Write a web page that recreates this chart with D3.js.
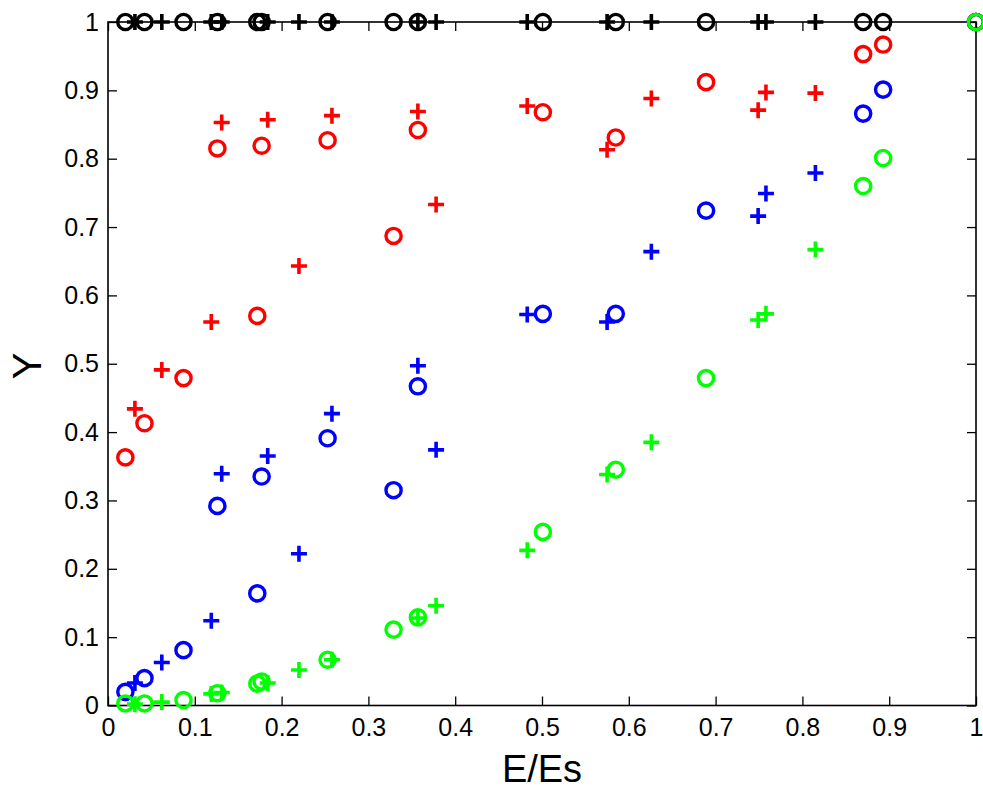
<!DOCTYPE html>
<html>
<head>
<meta charset="utf-8">
<script src="https://cdn.jsdelivr.net/npm/d3@7"></script>
<style>
  html, body { margin: 0; padding: 0; background: #fff; }
  svg { display: block; font-family: "Liberation Sans", Arial, Helvetica, sans-serif; }
</style>
</head>
<body>
<svg id="chart" width="983" height="789"></svg>
<script>
// ---- data ----
const circleX = [0.020, 0.042, 0.087, 0.126, 0.172, 0.177, 0.253, 0.329, 0.357, 0.501, 0.585, 0.689, 0.870, 0.893, 1.0];
const plusX   = [0.031, 0.062, 0.119, 0.131, 0.184, 0.220, 0.258, 0.357, 0.378, 0.483, 0.575, 0.626, 0.749, 0.758, 0.815];

const redCircleY   = [0.363, 0.413, 0.479, 0.815, 0.570, 0.819, 0.827, 0.687, 0.842, 0.868, 0.831, 0.912, 0.953, 0.967, 1.0];
const blueCircleY  = [0.020, 0.040, 0.081, 0.292, 0.164, 0.335, 0.391, 0.315, 0.467, 0.573, 0.573, 0.724, 0.866, 0.901, 1.0];
const greenCircleY = [0.003, 0.003, 0.008, 0.018, 0.032, 0.035, 0.067, 0.111, 0.129, 0.254, 0.345, 0.479, 0.760, 0.801, 1.0];
const blackCircleY = [1, 1, 1, 1, 1, 1, 1, 1, 1, 1, 1, 1, 1, 1, 1];

const redPlusY   = [0.434, 0.491, 0.561, 0.853, 0.857, 0.643, 0.863, 0.869, 0.733, 0.877, 0.813, 0.888, 0.871, 0.897, 0.896];
const bluePlusY  = [0.033, 0.063, 0.124, 0.339, 0.365, 0.222, 0.427, 0.497, 0.374, 0.572, 0.561, 0.664, 0.716, 0.749, 0.779];
const greenPlusY = [0.002, 0.005, 0.017, 0.019, 0.033, 0.052, 0.067, 0.128, 0.146, 0.227, 0.338, 0.385, 0.564, 0.573, 0.667];
const blackPlusY = [1, 1, 1, 1, 1, 1, 1, 1, 1, 1, 1, 1, 1, 1, 1];

const xTicks = [0, 0.1, 0.2, 0.3, 0.4, 0.5, 0.6, 0.7, 0.8, 0.9, 1];
const yTicks = [0, 0.1, 0.2, 0.3, 0.4, 0.5, 0.6, 0.7, 0.8, 0.9, 1];
const xLabel = "E/Es";
const yLabel = "Y";

const seriesList = [
  { color: "#000000", circleY: blackCircleY, plusY: blackPlusY },
  { color: "#ff0000", circleY: redCircleY,   plusY: redPlusY },
  { color: "#0000ff", circleY: blueCircleY,  plusY: bluePlusY },
  { color: "#00ff00", circleY: greenCircleY, plusY: greenPlusY }
];

// ---- layout ----
const L = 108, R = 976, T = 22, B = 705.5;
const svg = d3.select("#chart");
const x = d3.scaleLinear().domain([0, 1]).range([L, R]);
const y = d3.scaleLinear().domain([0, 1]).range([B, T]);
const tickLen = 9;
const fmt = d => d === 0 ? "0" : d === 1 ? "1" : d3.format(".1f")(d);

// axes
const gx = svg.append("g").attr("transform", `translate(0,${B})`)
  .call(d3.axisBottom(x).tickValues(xTicks).tickFormat(fmt).tickSizeInner(-tickLen).tickSizeOuter(0).tickPadding(13));
const gxt = svg.append("g").attr("transform", `translate(0,${T})`)
  .call(d3.axisTop(x).tickValues(xTicks).tickFormat("").tickSizeInner(-tickLen).tickSizeOuter(0));
const gy = svg.append("g").attr("transform", `translate(${L},0)`)
  .call(d3.axisLeft(y).tickValues(yTicks).tickFormat(fmt).tickSizeInner(-tickLen).tickSizeOuter(0).tickPadding(9));
const gyr = svg.append("g").attr("transform", `translate(${R},0)`)
  .call(d3.axisRight(y).tickValues(yTicks).tickFormat("").tickSizeInner(-tickLen).tickSizeOuter(0));

[gx, gxt, gy, gyr].forEach(g => {
  g.select(".domain").remove();
  g.selectAll(".tick line").attr("stroke", "#000").attr("stroke-width", 1.3);
  g.selectAll(".tick text").attr("fill", "#000").style("font-size", "25px");
});
gx.selectAll(".tick text").attr("dy", "0.71em");

// box
svg.append("rect").attr("x", L).attr("y", T).attr("width", R - L).attr("height", B - T)
  .attr("fill", "none").attr("stroke", "#000").attr("stroke-width", 1.6);

// axis labels
svg.append("text").attr("x", (L + R) / 2).attr("y", 782).attr("text-anchor", "middle")
  .style("font-size", "38px").attr("fill", "#000").text(xLabel);
svg.append("text").attr("transform", `translate(41,366) rotate(-90)`).attr("text-anchor", "middle")
  .style("font-size", "40px").attr("fill", "#000").text(yLabel);

// markers
const plusHalf = 8, circleR = 7.6;
const gm = svg.append("g");
seriesList.forEach(s => {
  const plusData = plusX.map((v, i) => [v, s.plusY[i]]);
  const circData = circleX.map((v, i) => [v, s.circleY[i]]);
  gm.append("g").selectAll("path").data(plusData).join("path")
    .attr("d", d => {
      const cx = x(d[0]), cy = y(d[1]);
      return `M${cx - plusHalf},${cy}H${cx + plusHalf}M${cx},${cy - plusHalf}V${cy + plusHalf}`;
    })
    .attr("stroke", s.color).attr("stroke-width", 3.6).attr("fill", "none");
  gm.append("g").selectAll("circle").data(circData).join("circle")
    .attr("cx", d => x(d[0])).attr("cy", d => y(d[1])).attr("r", circleR)
    .attr("stroke", s.color).attr("stroke-width", 3.4).attr("fill", "none");
});
</script>
</body>
</html>
